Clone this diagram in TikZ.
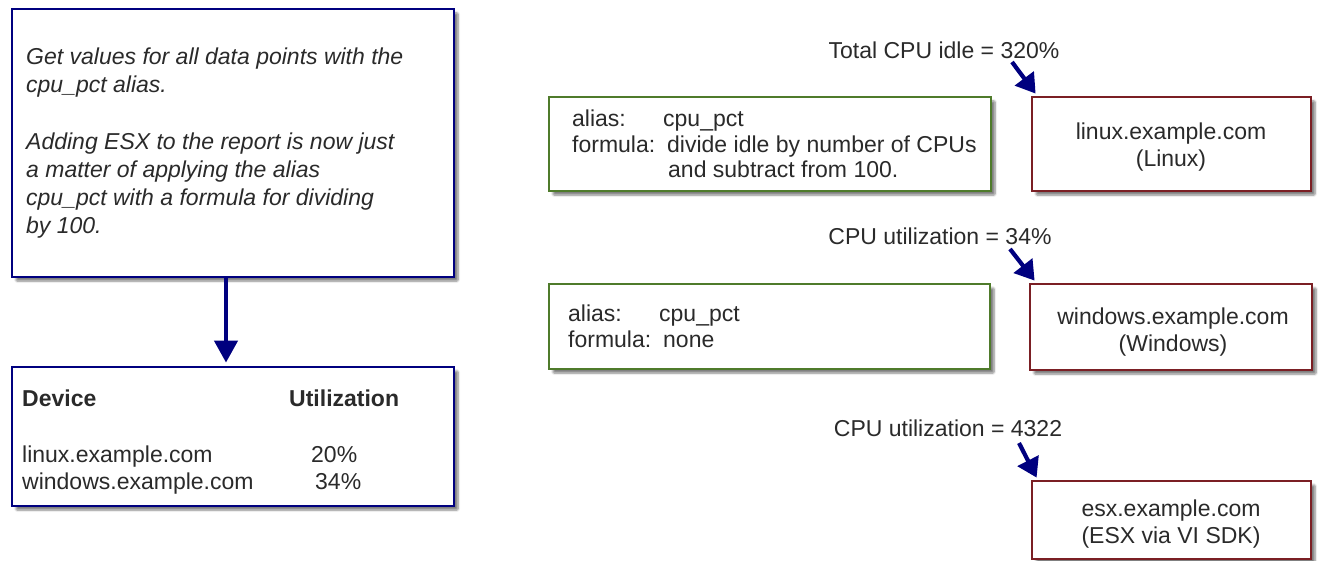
\documentclass[tikz,border=0pt]{standalone}
\usepackage{fontspec}
\setmainfont{Liberation Sans}
\usetikzlibrary{shadows,shadows.blur,arrows.meta}
\definecolor{navy}{HTML}{00007F}
\definecolor{boxgreen}{HTML}{4F7B2B}
\definecolor{boxred}{HTML}{7B1F24}
\definecolor{txt}{HTML}{2A2A2A}
\begin{document}
\begin{tikzpicture}[x=1pt,y=-1pt,
  every node/.style={font=\fontsize{23}{28}\selectfont, text=txt, inner sep=0pt},
  box/.style={draw, fill=white, line width=2.8pt, inner sep=0pt,
    blur shadow={shadow xshift=4pt, shadow yshift=-4pt, shadow blur steps=6, shadow blur extra rounding=1pt, shadow opacity=50}},
  bluebox/.style={box, draw=navy},
  greenbox/.style={box, draw=boxgreen},
  redbox/.style={box, draw=boxred},
  lt/.style={anchor=base west},
  ct/.style={anchor=base},
  it/.style={lt, font=\fontsize{23}{28}\selectfont\itshape},
  bt/.style={lt, font=\fontsize{23}{28}\selectfont\bfseries},
  bigarrow/.style={draw=navy, line width=4.4pt, -{Triangle[length=22pt,width=23pt]}},
  smallarrow/.style={draw=navy, line width=4.2pt, -{Triangle[length=19pt,width=23pt]}}
]
\useasboundingbox (0,0) rectangle (1320,561);

% left column
\node[bluebox, minimum width=442pt, minimum height=268pt] (A) at (233,143) {};
\node[it] (a1) at (26,65) {Get values for all data points with the};
\node[it] (a2) at (26,93) {cpu\_pct alias.};
\node[it] (a3) at (26,150) {Adding ESX to the report is now just};
\node[it] (a4) at (26,178) {a matter of applying the alias};
\node[it] (a5) at (26,206) {cpu\_pct with a formula for dividing};
\node[it] (a6) at (26,234) {by 100.};

\node[bluebox, minimum width=442pt, minimum height=139pt] (B) at (233,436.5) {};
\node[bt] (b1) at (22,406) {Device};
\node[bt] (b2) at (289,406) {Utilization};
\node[lt] (b3) at (22,462) {linux.example.com};
\node[lt] (b4) at (311,462) {20\%};
\node[lt] (b5) at (22,489) {windows.example.com};
\node[lt] (b6) at (315,489) {34\%};

\draw[bigarrow] ([xshift=-7pt]A.south) -- ([xshift=-7pt,yshift=3pt]B.north);

% right: linux
\node (L1) at (944,50) {Total CPU idle = 320\%};
\node[greenbox, minimum width=442pt, minimum height=94pt] (G1) at (770,144) {};
\node[lt] (g11) at (572,127) {alias:};
\node[lt] (g12) at (663,127) {cpu\_pct};
\node[lt] (g13) at (572,153) {formula:};
\node[lt] (g14) at (667,153) {divide idle by number of CPUs};
\node[lt] (g15) at (668,178) {and subtract from 100.};
\node[redbox, minimum width=279pt, minimum height=94pt] (R1) at (1171.5,144) {};
\node[ct] (r11) at (1171,140) {linux.example.com};
\node[ct] (r12) at (1171,167) {(Linux)};
\coordinate (s1) at (1012,62);
\draw[smallarrow] (s1) -- ([xshift=5pt,yshift=2pt]R1.north west);

% right: windows
\node (L2) at (940,236) {CPU utilization = 34\%};
\node[greenbox, minimum width=441pt, minimum height=85pt] (G2) at (769.5,326.5) {};
\node[lt] (g21) at (568,322) {alias:};
\node[lt] (g22) at (659,322) {cpu\_pct};
\node[lt] (g23) at (568,348) {formula:};
\node[lt] (g24) at (663,348) {none};
\node[redbox, minimum width=282pt, minimum height=86pt] (R2) at (1171,327) {};
\node[ct] (r21) at (1173,325) {windows.example.com};
\node[ct] (r22) at (1173,352) {(Windows)};
\coordinate (s2) at (1010,249);
\draw[smallarrow] (s2) -- ([xshift=6pt,yshift=2pt]R2.north west);

% right: esx
\node (L3) at (948,428) {CPU utilization = 4322};
\node[redbox, minimum width=279pt, minimum height=78pt] (R3) at (1171.5,520) {};
\node[ct] (r31) at (1171,516) {esx.example.com};
\node[ct] (r32) at (1171,543) {(ESX via VI SDK)};
\coordinate (s3) at (1019,443);
\draw[smallarrow] (s3) -- ([xshift=6pt,yshift=2pt]R3.north west);
\end{tikzpicture}
\end{document}
